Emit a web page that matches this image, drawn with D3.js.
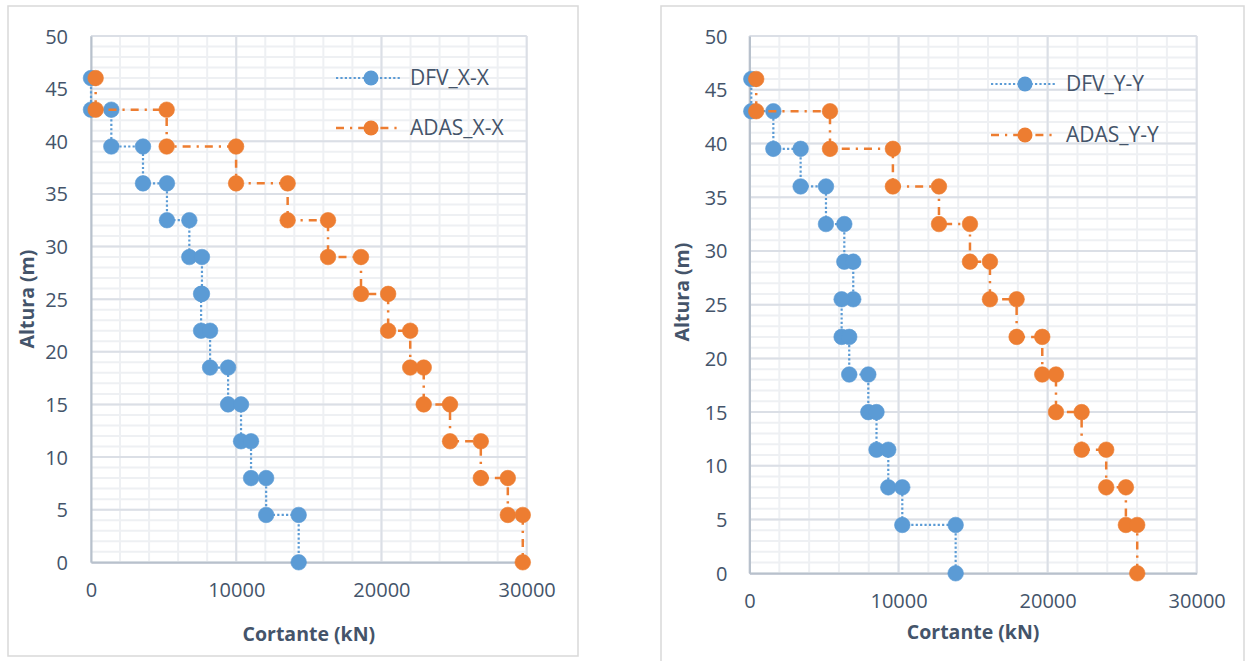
<!DOCTYPE html>
<html><head><meta charset="utf-8">
<script src="https://cdn.jsdelivr.net/npm/d3@7"></script>
<style>body{margin:0;background:#fff}svg{display:block}</style>
</head><body><svg id="c" width="1248" height="661"></svg>
<script>
// ---- data ----
const levels = [46, 43, 43, 39.5, 39.5, 36, 36, 32.5, 32.5, 29, 29, 25.5, 25.5, 22, 22, 18.5, 18.5, 15, 15, 11.5, 11.5, 8, 8, 4.5, 4.5, 0];
const dfvXX  = [0, 0, 1400, 1400, 3580, 3580, 5230, 5230, 6770, 6770, 7640, 7640, 7580, 7580, 8200, 8200, 9440, 9440, 10330, 10330, 11020, 11020, 12060, 12060, 14300, 14300];
const adasXX = [320, 320, 5210, 5210, 9990, 9990, 13540, 13540, 16320, 16320, 18590, 18590, 20460, 20460, 21980, 21980, 22910, 22910, 24720, 24720, 26840, 26840, 28700, 28700, 29730, 29730];
const dfvYY  = [120, 120, 1600, 1600, 3430, 3430, 5130, 5130, 6360, 6360, 6960, 6960, 6180, 6180, 6690, 6690, 7970, 7970, 8520, 8520, 9310, 9310, 10250, 10250, 13830, 13830];
const adasYY = [450, 450, 5400, 5400, 9620, 9620, 12710, 12710, 14790, 14790, 16130, 16130, 17920, 17920, 19640, 19640, 20560, 20560, 22280, 22280, 23930, 23930, 25250, 25250, 26010, 26010];
const xTickValues = [0, 10000, 20000, 30000];
const yTickValues = [0, 5, 10, 15, 20, 25, 30, 35, 40, 45, 50];
const namesLeft  = ["DFV_X-X", "ADAS_X-X"];
const namesRight = ["DFV_Y-Y", "ADAS_Y-Y"];
const xTitle = "Cortante (kN)";
const yTitle = "Altura (m)";

// ---- styles ----
const BLUE = "#5b9bd5", ORANGE = "#ed7d31", TXT = "#44546a";
const FONT = "'Open Sans', 'Noto Sans', sans-serif";
const svg = d3.select("#c");

function chart(cfg) {
  const g = svg.append("g");
  g.append("rect").attr("x", cfg.frame[0]).attr("y", cfg.frame[1])
    .attr("width", cfg.frame[2]).attr("height", cfg.frame[3])
    .attr("fill", "#fff").attr("stroke", "#d9d9d9").attr("stroke-width", 1.5);

  const x = d3.scaleLinear().domain([0, 30000]).range([cfg.px0, cfg.px1]);
  const y = d3.scaleLinear().domain([0, 50]).range([cfg.py0, cfg.py1]);

  // minor grid
  const minorX = d3.range(0, 30001, 2000), minorY = d3.range(0, 51, 1);
  g.selectAll(".mx").data(minorX).join("line")
    .attr("x1", d => x(d)).attr("x2", d => x(d)).attr("y1", y(0)).attr("y2", y(50))
    .attr("stroke", "#eef0f3").attr("stroke-width", 2);
  g.selectAll(".my").data(minorY).join("line")
    .attr("y1", d => y(d)).attr("y2", d => y(d)).attr("x1", x(0)).attr("x2", x(30000))
    .attr("stroke", "#eef0f3").attr("stroke-width", 2);
  // major grid
  g.selectAll(".Mx").data(xTickValues).join("line")
    .attr("x1", d => x(d)).attr("x2", d => x(d)).attr("y1", y(0)).attr("y2", y(50))
    .attr("stroke", "#dbdfe6").attr("stroke-width", 2);
  g.selectAll(".My").data(yTickValues).join("line")
    .attr("y1", d => y(d)).attr("y2", d => y(d)).attr("x1", x(0)).attr("x2", x(30000))
    .attr("stroke", "#dbdfe6").attr("stroke-width", 2);

  const xa = g.append("g").attr("transform", `translate(0,${y(0)})`)
    .call(d3.axisBottom(x).tickValues(xTickValues).tickSize(0).tickPadding(cfg.xTickPad).tickFormat(d3.format("d")));
  const ya = g.append("g").attr("transform", `translate(${x(0)},0)`)
    .call(d3.axisLeft(y).tickValues(yTickValues).tickSize(0).tickPadding(cfg.yTickPad).tickFormat(d3.format("d")));
  [xa, ya].forEach(a => {
    a.select(".domain").attr("stroke", "#b8c1cc").attr("stroke-width", 2);
    a.selectAll("text").attr("fill", TXT).attr("font-family", FONT).attr("font-size", 20);
  });
  ya.selectAll("text").attr("dy", "0.35em");

  // titles
  g.append("text").attr("x", (cfg.px0 + cfg.px1) / 2).attr("y", cfg.xTitleY)
    .attr("text-anchor", "middle").attr("font-family", FONT).attr("font-weight", "bold")
    .attr("font-size", 19.5).attr("fill", TXT).text(xTitle);
  g.append("text").attr("transform", `translate(${cfg.yTitleX},${cfg.yTitleY}) rotate(-90)`)
    .attr("text-anchor", "middle").attr("dy", "0.35em").attr("font-family", FONT).attr("font-weight", "bold")
    .attr("font-size", 19.5).attr("fill", TXT).text(yTitle);

  const line = d3.line().x(d => x(d[0])).y(d => y(d[1]));
  const series = [
    {vals: cfg.s1, color: BLUE, dash: "2.2,2.2", w: 2.2, name: cfg.names[0]},
    {vals: cfg.s2, color: ORANGE, dash: "8,6,2.2,6", w: 2.5, name: cfg.names[1]}
  ];
  series.forEach(s => {
    const pts = s.vals.map((v, i) => [v, levels[i]]);
    g.append("path").datum(pts).attr("d", line).attr("fill", "none")
      .attr("stroke", s.color).attr("stroke-width", s.w).attr("stroke-dasharray", s.dash);
    g.selectAll(null).data(pts).join("circle")
      .attr("cx", d => x(d[0])).attr("cy", d => y(d[1])).attr("r", 7.8)
      .attr("fill", s.color).attr("stroke", s.color).attr("stroke-width", 0.6);
  });

  // legend
  series.forEach((s, i) => {
    const ly = cfg.legY[i];
    g.append("line").attr("x1", cfg.legL0).attr("x2", cfg.legL1).attr("y1", ly).attr("y2", ly)
      .attr("stroke", s.color).attr("stroke-width", s.w).attr("stroke-dasharray", s.dash);
    g.append("circle").attr("cx", cfg.legM).attr("cy", ly).attr("r", 7.5).attr("fill", s.color);
    g.append("text").attr("x", cfg.legT).attr("y", ly).attr("dy", "0.35em")
      .attr("font-family", FONT).attr("font-size", 21).attr("fill", TXT).text(s.name);
  });
}

chart({frame: [8, 6, 570, 650], px0: 91, px1: 526.7, py0: 562.3, py1: 36,
  xTickPad: 21, yTickPad: 23, xTitleY: 641, yTitleX: 27, yTitleY: 299,
  s1: dfvXX, s2: adasXX, names: namesLeft,
  legL0: 336, legL1: 402, legM: 371, legT: 410, legY: [78, 128]});

chart({frame: [661, 6, 583, 700], px0: 749.5, px1: 1196.7, py0: 573.3, py1: 36,
  xTickPad: 21, yTickPad: 22, xTitleY: 639, yTitleX: 682, yTitleY: 292,
  s1: dfvYY, s2: adasYY, names: namesRight,
  legL0: 991, legL1: 1056, legM: 1025, legT: 1066, legY: [84, 135]});
</script>
</body></html>
